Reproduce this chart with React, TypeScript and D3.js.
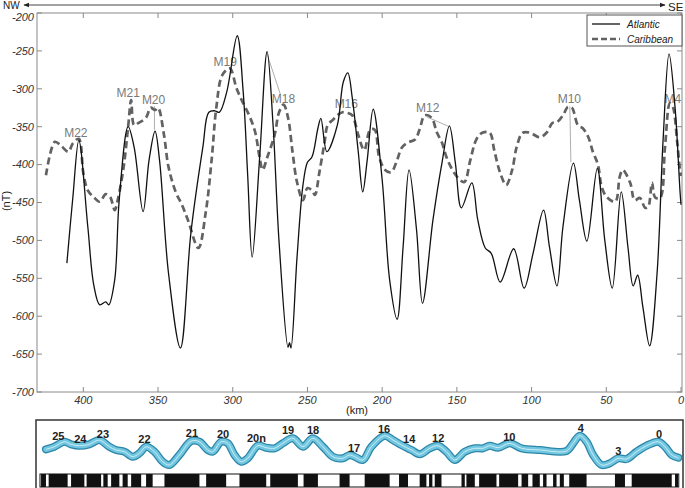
import React from 'react';
import * as d3 from 'd3';

// distance (km) vs anomaly (nT)
const atlantic: [number, number][] = [
  [411, -530], [407, -443], [403, -368], [397, -482], [393, -559], [389, -585], [385, -581],
  [383, -585], [379, -552], [376, -447], [370, -350], [366, -377], [360, -462], [356, -394],
  [352, -356], [349, -394], [343, -543], [335, -642], [328, -490], [320, -377], [316, -331],
  [312, -329], [309, -331], [304, -304], [297, -230], [293, -304], [290, -414], [287, -522],
  [282, -391], [277, -251], [273, -348], [269, -502], [263, -641], [262, -635], [261, -642],
  [257, -523], [253, -427], [250, -397], [247, -390], [243, -352], [241, -339], [237, -383],
  [230, -348], [226, -291], [223, -279], [220, -312], [216, -383], [213, -436], [210, -394],
  [206, -327], [200, -420], [195, -552], [190, -604], [186, -509], [182, -407], [177, -486],
  [173, -583], [166, -473], [160, -398], [155, -349], [151, -398], [147, -457], [140, -424],
  [136, -473], [131, -510], [127, -517], [121, -555], [112, -511], [105, -563], [99, -517],
  [92, -460], [88, -509], [83, -560], [79, -482], [72, -398], [68, -447], [63, -501],
  [56, -405], [51, -500], [46, -563], [40, -436], [35.5, -509], [32, -560], [29, -546],
  [25.5, -588], [21, -639], [16, -543], [12, -368], [8, -254], [4, -324], [0.7, -434], [0, -453],
];

const caribbean: [number, number][] = [
  [425, -414], [419, -370], [415, -375], [410, -383], [407, -372], [403, -366], [400, -411],
  [397, -434], [393, -443], [389, -449], [385, -439], [382, -443], [379, -460], [377, -447],
  [373, -403], [370, -350], [368, -315], [366, -348], [363, -345], [358, -338], [355, -325],
  [352, -328], [350, -325], [346, -361], [343, -403], [338, -437], [334, -453], [330, -473],
  [323, -510], [318, -462], [314, -391], [311, -325], [307, -282], [302, -273], [297.5, -299],
  [294, -315], [289, -335], [285, -357], [282, -391], [280, -407], [277, -391], [272, -361],
  [269, -331], [266, -321], [263, -338], [260, -383], [257, -423], [253, -447], [250, -431],
  [247, -434], [245, -440], [242, -410], [238.5, -370], [236.5, -348], [233, -341], [230, -335],
  [226.5, -331], [223, -332], [220, -335], [216, -361], [212, -381], [208, -354], [205, -354],
  [202, -390], [198, -407], [194, -410], [190, -394], [187, -378], [183, -371], [178, -367],
  [175, -354], [171.5, -335], [167, -338], [163.5, -357], [160, -371], [157, -390], [153, -407],
  [149, -418], [145, -423], [141, -394], [137, -367], [133, -358], [128, -358], [125, -381],
  [121, -411], [117, -427], [113, -407], [110, -377], [106, -358], [101, -358], [94.5, -364],
  [90, -358], [86, -345], [83, -344], [79, -335], [75.7, -324], [73, -325], [69, -348],
  [65.7, -352], [62, -364], [59, -383], [55.6, -400], [53, -430], [49.6, -443], [44, -449],
  [41, -416], [39, -407], [34, -424], [31, -447], [27.5, -444], [24, -457], [22, -456],
  [19.4, -424], [17.4, -443], [14, -444], [10.7, -377], [7.4, -319], [5.4, -324], [2.7, -367],
  [0.7, -407], [0, -415],
];

const yTicks = [-200, -250, -300, -350, -400, -450, -500, -550, -600, -650, -700];
const xTicks = [400, 350, 300, 250, 200, 150, 100, 50, 0];

// anomaly names: label position (km, nT) and optional leader line
const anomalies: { name: string; km: number; nT: number; lead?: [number, number, number, number] }[] = [
  { name: 'M22', km: 405, nT: -364 },
  { name: 'M21', km: 370, nT: -311 },
  { name: 'M20', km: 353, nT: -320, lead: [352.4, -323, 352.4, -354] },
  { name: 'M19', km: 305, nT: -270 },
  { name: 'M18', km: 266, nT: -319, lead: [277.4, -252, 268, -308] },
  { name: 'M16', km: 224, nT: -325 },
  { name: 'M12', km: 169.5, nT: -331, lead: [170.2, -337, 156.1, -349] },
  { name: 'M10', km: 74.7, nT: -319, lead: [74.4, -323, 73.7, -397] },
  { name: 'M4', km: 5.4, nT: -319 },
];

// lower panel: model profile (km, relative height) and polarity blocks
const model: [number, number][] = [
  [425, 15.7], [419.4, 18.3], [412.7, 23.3], [408.2, 20.7], [402.7, 19.3], [396, 20.7],
  [389.3, 25], [382.6, 18.3], [378.1, 15], [372.5, 13.3], [367, 8.3], [362.5, 11.7],
  [358, 18.3], [352.4, 13.3], [346.9, 3.3], [342.4, 0], [335.7, 10], [327.8, 24],
  [322.3, 23.3], [316.7, 15], [313.4, 13.3], [307.7, 23.3], [303.3, 21.7], [298.8, 10],
  [294.3, 3.3], [290, 6.7], [283.2, 19.3], [277.6, 17.3], [272, 16.7], [266.5, 21.7],
  [259.8, 26.7], [253, 18.3], [246.4, 26.7], [239.7, 18.3], [233, 8.3], [226.3, 6.7],
  [221.8, 10], [218.4, 8.3], [212.9, 5], [207.2, 18.3], [198.3, 29.3], [192.8, 25],
  [187.1, 20], [180.4, 15], [174.9, 10.7], [168.2, 16.7], [162.6, 19.3], [157, 13.3],
  [151.4, 5], [144.7, 13.3], [138, 16.7], [132.5, 16.7], [128, 19.3], [122.4, 17.3],
  [114.6, 21.7], [106.7, 16.7], [94.5, 15], [76.6, 14], [72.2, 21.7], [67.7, 29.3],
  [63.2, 23.3], [58.8, 10], [53.1, 0], [47.6, 1.7], [42, 6.7], [36.4, 6], [29.7, 13.3],
  [23, 19.3], [15.2, 23.3], [10.7, 18.3], [6.2, 10], [1.8, 7.3],
];

const chrons: { name: string; km: number; h: number }[] = [
  { name: '25', km: 416.7, h: 25 }, { name: '24', km: 402, h: 22 }, { name: '23', km: 386.9, h: 27 },
  { name: '22', km: 359.1, h: 22 }, { name: '21', km: 327.3, h: 28 }, { name: '20', km: 306.5, h: 27 },
  { name: '20n', km: 284.1, h: 23 }, { name: '19', km: 263, h: 31 }, { name: '18', km: 246.2, h: 31 },
  { name: '17', km: 218.8, h: 13 }, { name: '16', km: 198.7, h: 32 }, { name: '14', km: 181.9, h: 22 },
  { name: '12', km: 162.5, h: 23 }, { name: '10', km: 114.9, h: 24 }, { name: '4', km: 67, h: 33 },
  { name: '3', km: 41.9, h: 10 }, { name: '0', km: 14.7, h: 27 },
];

const normalBlocks: [number, number][] = [
  [428.3, 425], [423.2, 410.5], [408.2, 399.3], [397.8, 388.1], [386.6, 383.7], [381.4, 375.9],
  [373.7, 370.3], [368, 361.3], [358, 353.6], [345.7, 322.3], [317.8, 304.4], [295.5, 277.6],
  [274.9, 256.4], [252.6, 243], [228.5, 221.8], [211.7, 195], [188.7, 182.7], [174.9, 170.4],
  [168.6, 166.4], [164.8, 160.3], [146.9, 144.7], [143.6, 138], [135.1, 123.5], [121.7, 109],
  [106.7, 102.3], [99.4, 94.5], [92.3, 90], [85.6, 83.3], [81.1, 78.4], [74.8, 63.2],
  [44.2, 37.5], [33, 6.2], [4, 2],
];

const W = 685;
const H = 488;
const left = 37;
const right = 682;
const top = 13;
const bottom = 392;
const font = '"Liberation Sans", Arial, sans-serif';

export default function App() {
  const x = d3.scaleLinear().domain([431, 0]).range([left, 681]);
  const y = d3.scaleLinear().domain([-200, -700]).range([top, bottom]);
  const yw = d3.scaleLinear().domain([0, 30]).range([465, 435]);

  const line = d3.line<[number, number]>()
    .x(d => x(d[0]))
    .y(d => y(d[1]))
    .curve(d3.curveCatmullRom.alpha(0.5));

  const waveLine = d3.line<[number, number]>()
    .x(d => x(d[0]))
    .y(d => yw(d[1]))
    .curve(d3.curveCatmullRom.alpha(0.5));

  const axisColor = '#8a8a8a';
  const tickColor = '#333';

  return (
    <div style={{ position: 'absolute', left: 0, top: 0 }}>
      <svg width={W} height={H} style={{ display: 'block', background: '#fff' }} fontFamily={font}>
        <defs>
          <marker id="ah" viewBox="0 0 10 10" refX="9" refY="5" markerWidth="6" markerHeight="6" orient="auto-start-reverse">
            <path d="M0,1 L10,5 L0,9 z" fill="#222" />
          </marker>
          <clipPath id="plot">
            <rect x={left} y={top} width={right - left} height={bottom - top} />
          </clipPath>
        </defs>

        {/* direction arrow */}
        <text x={3} y={9.2} fontSize={10} fill="#222">NW</text>
        <line x1={24} x2={665} y1={5} y2={5} stroke="#444" strokeWidth={1}
          markerStart="url(#ah)" markerEnd="url(#ah)" />
        <text x={668} y={11} fontSize={11.5} fill="#222">SE</text>

        {/* plot box */}
        <rect x={left} y={top} width={right - left} height={bottom - top} fill="none" stroke={axisColor} strokeWidth={1} />

        {yTicks.map(t => (
          <g key={'y' + t}>
            <line x1={left} x2={left + 5} y1={y(t)} y2={y(t)} stroke={axisColor} />
            <line x1={right - 5} x2={right} y1={y(t)} y2={y(t)} stroke={axisColor} />
            <text x={left - 3} y={y(t)} dy={t === -200 ? '0.76em' : '0.35em'} textAnchor="end" fontSize={11} fontStyle="italic" fill={tickColor}>{t}</text>
          </g>
        ))}
        {xTicks.map(t => (
          <g key={'x' + t}>
            <line x1={x(t)} x2={x(t)} y1={bottom} y2={bottom - 5} stroke={axisColor} />
            <line x1={x(t)} x2={x(t)} y1={top} y2={top + 5} stroke={axisColor} />
            <text x={x(t)} y={bottom + 12} textAnchor="middle" fontSize={11} fontStyle="italic" fill={tickColor}>{t}</text>
          </g>
        ))}
        <text x={357} y={414} textAnchor="middle" fontSize={11} fill="#222">(km)</text>
        <text transform="translate(10,201) rotate(-90)" textAnchor="middle" fontSize={11} fill="#222">(nT)</text>

        {/* anomaly names */}
        {anomalies.map(a => (
          <g key={a.name}>
            {a.lead && (
              <line x1={x(a.lead[0])} y1={y(a.lead[1])} x2={x(a.lead[2])} y2={y(a.lead[3])} stroke="#999" strokeWidth={0.8} />
            )}
            <text x={x(a.km)} y={y(a.nT)} textAnchor="middle" fontSize={12} fill="#7a7a7a">{a.name}</text>
          </g>
        ))}

        <g clipPath="url(#plot)">
          <path d={line(caribbean) ?? ''} fill="none" stroke="#626262" strokeWidth={2.7} strokeDasharray="7 4" />
          <path d={line(atlantic) ?? ''} fill="none" stroke="#111" strokeWidth={1.3} />
        </g>

        {/* legend */}
        <rect x={587} y={15} width={right - 587} height={31} fill="#fff" stroke="#555" strokeWidth={1} />
        <line x1={592} x2={620} y1={24} y2={24} stroke="#111" strokeWidth={1.3} />
        <line x1={592} x2={620} y1={39} y2={39} stroke="#626262" strokeWidth={2.7} strokeDasharray="6 3" />
        <text x={627} y={28} fontSize={10} fontStyle="italic" fill="#222">Atlantic</text>
        <text x={627} y={43} fontSize={10} fontStyle="italic" fill="#222">Caribbean</text>

        {/* lower panel */}
        <rect x={36} y={420} width={647} height={80} fill="#fff" stroke="#333" strokeWidth={1.5} />
        <path d={waveLine(model) ?? ''} fill="none" stroke="#2b86a8" strokeWidth={8} strokeLinecap="round" strokeLinejoin="round" />
        <path d={waveLine(model) ?? ''} fill="none" stroke="#72c6df" strokeWidth={5.5} strokeLinecap="round" strokeLinejoin="round" />
        <path d={waveLine(model) ?? ''} fill="none" stroke="#c9eef7" strokeWidth={1} />
        {chrons.map(c => (
          <text key={c.name} x={x(c.km)} y={yw(c.h)} textAnchor="middle" fontSize={11} fontWeight="bold" fill="#222">{c.name}</text>
        ))}
        <rect x={x(429)} y={474} width={x(1.5) - x(429)} height={13} fill="#fff" stroke="#111" strokeWidth={1} />
        {normalBlocks.map((b, i) => (
          <rect key={i} x={x(b[0])} y={474} width={x(b[1]) - x(b[0])} height={13} fill="#111" />
        ))}
      </svg>
    </div>
  );
}
